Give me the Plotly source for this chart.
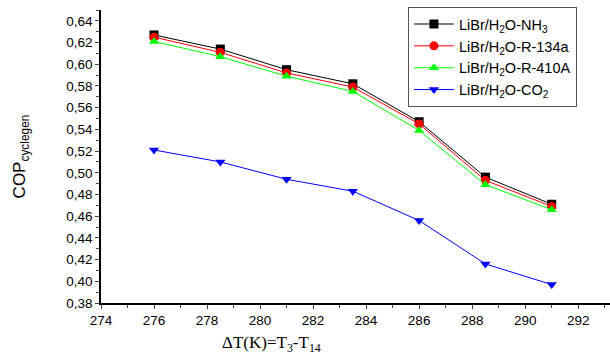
import plotly.graph_objects as go

dT = [276, 278.5, 281, 283.5, 286, 288.5, 291]
nh3 = [0.627, 0.614, 0.595, 0.582, 0.547, 0.496, 0.471]
r134a = [0.625, 0.611, 0.592, 0.579, 0.545, 0.493, 0.469]
r410a = [0.621, 0.607, 0.589, 0.575, 0.539, 0.489, 0.466]
co2 = [0.521, 0.510, 0.494, 0.483, 0.456, 0.416, 0.397]

names = ["LiBr/H<sub>2</sub>O-NH<sub>3</sub>", "LiBr/H<sub>2</sub>O-R-134a",
         "LiBr/H<sub>2</sub>O-R-410A", "LiBr/H<sub>2</sub>O-CO<sub>2</sub>"]
series = [nh3, r134a, r410a, co2]
colors = ["#000000", "#ff0000", "#00ff00", "#0000ff"]
symbols = ["square", "circle", "triangle-up", "triangle-down"]

fig = go.Figure()
for n, s, c, sym in zip(names, series, colors, symbols):
    fig.add_trace(go.Scatter(x=dT, y=s, name=n, mode="lines+markers",
                             line=dict(color=c, width=1),
                             marker=dict(symbol=sym, size=9, color=c)))

fig.update_layout(
    width=610, height=356,
    margin=dict(l=101, r=0, t=10, b=53),
    plot_bgcolor="white", paper_bgcolor="white",
    separators=",.",
    font=dict(family="Liberation Sans, Arial", size=13, color="black"),
    showlegend=True,
    legend=dict(x=0.603, y=1.01, xanchor="left", yanchor="top",
                bordercolor="#555555", borderwidth=1, bgcolor="white",
                font=dict(size=14.5), tracegroupgap=0, itemwidth=40),
    xaxis=dict(range=[274, 293.2], dtick=2, tick0=274, ticks="outside", ticklen=4,
               showline=True, linecolor="black", linewidth=1.5, showgrid=False,
               zeroline=False, tickfont=dict(size=13.5),
               minor=dict(ticks="outside", dtick=1, ticklen=3, showgrid=False)),
    yaxis=dict(range=[0.38, 0.65], dtick=0.02, tick0=0.38, ticks="outside", ticklen=4,
               tickformat=".2f", showline=True, linecolor="black", linewidth=1.5,
               showgrid=False, zeroline=False, tickfont=dict(size=13.5),
               title=dict(text="COP<sub>cyclegen</sub>", font=dict(size=17), standoff=36),
               minor=dict(ticks="outside", dtick=0.01, ticklen=3, showgrid=False)),
)
fig.add_annotation(text="ΔT(K)=T<sub>3</sub>-T<sub>14</sub>", xref="paper", yref="paper",
                   x=(271 - 101) / 509, y=-0.095, xanchor="center", yanchor="top",
                   showarrow=False,
                   font=dict(family="Liberation Serif, Times New Roman", size=17))
fig.write_html("out.html")
